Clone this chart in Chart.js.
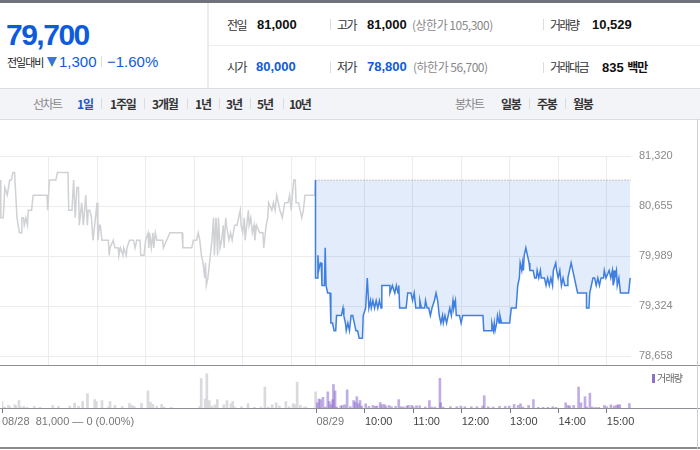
<!DOCTYPE html>
<html><head><meta charset="utf-8">
<script src="https://cdn.jsdelivr.net/npm/chart.js@4"></script>
<style>
body{margin:0;width:700px;height:450px;position:relative;overflow:hidden;background:#fff;font-family:"Liberation Sans",Arial,sans-serif;}
.a{position:absolute;white-space:nowrap;line-height:20px;height:20px;}
.k{font-family:"Noto Sans CJK KR",sans-serif;font-size:12px;letter-spacing:-1.5px;color:#333;}
.v{font-family:"Liberation Sans",Arial,sans-serif;font-size:13px;font-weight:bold;color:#111;}
.b{color:#0d5bdc;}
.g{font-family:"Noto Sans CJK KR",sans-serif;font-size:12px;color:#888;letter-spacing:-0.5px;}
.s{position:absolute;width:1px;height:11px;background:#dcdcdc;}
.t{font-family:"Noto Sans CJK KR",sans-serif;font-size:12px;letter-spacing:-1.2px;font-weight:bold;color:#333;}
.ln{position:absolute;}
canvas{position:absolute;left:0;}
</style></head>
<body>
<div class="ln" style="left:0;top:0;width:700px;height:3px;background:#6e737b"></div>
<div class="ln" style="left:207px;top:3px;width:2px;height:85px;background:#ececec"></div>
<div class="ln" style="left:209px;top:45px;width:491px;height:1px;background:#eeeeee"></div>
<div class="ln" style="left:0;top:88px;width:700px;height:30px;background:#f3f4f7;border-top:1px solid #dcdde0;border-bottom:1px solid #dcdde0"></div>

<div class="a" style="left:6px;top:20px;height:30px;line-height:30px;font-size:30px;font-weight:bold;letter-spacing:-1.5px;color:#0d5bdc">79,700</div>
<div class="a k" style="left:7px;top:52px;font-size:11px;letter-spacing:-1px;color:#222">전일대비</div>
<div class="ln" style="left:47px;top:57px;width:0;height:0;border-left:5.5px solid transparent;border-right:5.5px solid transparent;border-top:10px solid #3d74d4"></div>
<div class="a b" style="left:59px;top:52px;font-size:15px">1,300</div>
<div class="s" style="left:101px;top:56px"></div>
<div class="a b" style="left:107px;top:52px;font-size:15px">−1.60%</div>

<div class="a k" style="left:227px;top:15px">전일</div>
<div class="a v" style="left:257px;top:15px">81,000</div>
<div class="s" style="left:330px;top:19px"></div>
<div class="a k" style="left:337px;top:15px">고가</div>
<div class="a v" style="left:367px;top:15px">81,000</div>
<div class="a g" style="left:412px;top:15px">(상한가 105,300)</div>
<div class="s" style="left:543px;top:19px"></div>
<div class="a k" style="left:550px;top:15px">거래량</div>
<div class="a v" style="left:592px;top:15px">10,529</div>

<div class="a k" style="left:227px;top:57px">시가</div>
<div class="a v b" style="left:256px;top:57px">80,000</div>
<div class="s" style="left:330px;top:62px"></div>
<div class="a k" style="left:337px;top:57px">저가</div>
<div class="a v b" style="left:367px;top:57px">78,800</div>
<div class="a g" style="left:413px;top:57px">(하한가 56,700)</div>
<div class="s" style="left:543px;top:62px"></div>
<div class="a k" style="left:550px;top:57px">거래대금</div>
<div class="a v" style="left:602px;top:57px">835 <span style="font-family:'Noto Sans CJK KR';font-size:12px;letter-spacing:-1px">백만</span></div>

<div class="a g" style="left:33px;top:94px;letter-spacing:-1.5px">선차트</div>
<div class="a t" style="left:77px;top:94px;color:#1e56c9">1일</div>
<div class="s" style="left:101px;top:98px"></div>
<div class="a t" style="left:110px;top:94px">1주일</div>
<div class="s" style="left:144px;top:98px"></div>
<div class="a t" style="left:152px;top:94px">3개월</div>
<div class="s" style="left:187px;top:98px"></div>
<div class="a t" style="left:195px;top:94px">1년</div>
<div class="s" style="left:219px;top:98px"></div>
<div class="a t" style="left:226px;top:94px">3년</div>
<div class="s" style="left:250px;top:98px"></div>
<div class="a t" style="left:257px;top:94px">5년</div>
<div class="s" style="left:283px;top:98px"></div>
<div class="a t" style="left:289px;top:94px">10년</div>
<div class="a g" style="left:455px;top:94px;letter-spacing:-1.5px">봉차트</div>
<div class="a t" style="left:501px;top:94px">일봉</div>
<div class="s" style="left:529px;top:98px"></div>
<div class="a t" style="left:537px;top:94px">주봉</div>
<div class="s" style="left:565px;top:98px"></div>
<div class="a t" style="left:573px;top:94px">월봉</div>

<canvas id="price" width="700" height="261" style="top:120px"></canvas>
<canvas id="vol" width="700" height="70" style="top:366px"></canvas>

<div class="ln" style="left:0;top:365px;width:700px;height:1px;background:#8d9096"></div>
<div class="ln" style="left:0;top:408px;width:700px;height:1px;background:#8d9096"></div>
<div class="ln" style="left:0;top:447px;width:700px;height:2px;background:#8a8a8a"></div>
<div class="ln" style="left:697px;top:119px;width:1px;height:331px;background:#cfcfcf"></div>
<div class="ln" style="left:652px;top:374px;width:3px;height:9px;background:#8d70c8"></div>
<div class="a k" style="left:657px;top:368px;font-size:10px;letter-spacing:-0.8px;color:#666">거래량</div>

<script>
// minutes after 09:00 open; previous day (08/28) and current day (08/29)
const prevMin = [0,1,4,6,9,12,14,16,18,21,24,26,27,29,30,32,34,35,39,41,58,59,61,69,71,84,85,89,91,93,95,97,98,101,103,106,108,109,111,113,115,117,119,120,121,123,124,126,134,135,136,140,142,146,147,149,152,153,156,157,160,165,167,169,173,174,178,180,183,184,185,187,189,190,192,194,201,202,206,210,225,226,237,239,243,245,247,249,251,253,254,255,257,260,262,264,265,267,269,270,272,274,276,277,279,280,283,285,287,290,293,295,297,298,300,302,303,305,307,308,310,312,314,315,317,321,325,326,329,331,332,336,338,340,342,344,346,349,352,356,358,360,363,365,366,369,371,373,375,377,389,390];
const prevPrice = [81000,80500,80500,80900,80800,81000,81000,81100,81100,80500,80300,80300,80500,80500,80400,80500,80400,80600,80600,80800,80800,80600,81000,81000,81100,81100,80600,80600,81000,80500,80900,80900,80400,80700,80400,80800,80400,80600,80600,80500,80200,80400,80600,80700,80200,80400,80400,80200,80200,80000,80100,80200,80100,80100,80000,80100,80000,80100,80000,80100,80200,80200,80100,80200,80200,80000,80000,80200,80300,80100,80300,80100,80300,80100,80300,80200,80200,80100,80200,80300,80300,80100,80100,80200,80200,80300,80200,80000,79900,79700,79900,79600,79700,80000,80200,80500,80000,80500,80000,80500,80100,80200,80400,80100,80500,80400,80200,80300,80200,80400,80400,80500,80600,80400,80300,80500,80200,80400,80600,80400,80500,80300,80400,80200,80400,80300,80300,80100,80400,80500,80700,80600,80700,80600,80800,80700,80600,80500,80700,80700,80800,80600,81000,81000,80700,80700,80600,80500,80600,80800,80800,81000];
const curMin = [0,0,2,3,4,6,7,8,11,12,13,15,18,19,21,23,25,26,32,34,35,37,38,40,42,44,46,48,50,52,54,58,59,62,64,66,68,69,71,73,75,77,79,81,82,92,92,95,98,100,102,103,104,112,114,116,118,120,122,124,129,129,131,135,136,138,140,142,144,147,149,151,153,155,157,158,160,162,164,166,168,170,171,173,174,178,180,182,207,208,217,218,220,221,222,224,225,227,228,230,240,242,248,250,252,253,255,256,257,258,260,262,264,265,269,271,273,274,276,278,279,283,285,287,289,291,293,294,297,298,300,302,304,306,308,311,312,314,316,318,320,322,324,335,335,338,339,341,343,345,347,349,351,353,356,357,359,363,365,367,368,369,370,372,373,375,376,377,387,389];
const curPrice = [81000,79700,79700,80000,79800,79900,79900,79600,79600,80100,79600,79500,79500,79100,79100,79000,79000,79200,79200,79300,79200,79100,79000,79100,79000,79200,79200,79100,79000,79000,78900,78900,79200,79300,79700,79300,79400,79300,79400,79300,79400,79300,79400,79300,79600,79600,79500,79600,79500,79600,79500,79600,79300,79300,79500,79500,79500,79400,79500,79300,79300,79400,79300,79300,79400,79300,79300,79200,79300,79400,79500,79400,79200,79100,79200,79100,79200,79100,79200,79300,79200,79400,79300,79400,79200,79200,79100,79200,79200,79000,79000,79100,79000,79100,79000,79100,79200,79100,79200,79100,79100,79300,79300,79600,79700,79900,79800,79900,79800,80000,80100,80000,79900,79800,79800,79700,79700,79800,79700,79800,79700,79700,79600,79700,79600,79700,79600,79800,79900,79800,79700,79800,79600,79700,79600,79600,79700,79800,79900,79800,79700,79600,79500,79500,79300,79300,79500,79600,79700,79700,79600,79700,79600,79700,79700,79800,79700,79800,79700,79800,79600,79800,79700,79800,79600,79700,79600,79500,79500,79700];
const prevVolMin = [0,3,8,10,16,17,21,23,27,31,40,47,63,70,84,90,95,100,106,115,117,124,132,134,140,149,158,161,164,173,181,184,187,192,198,201,210,245,247,252,254,257,260,264,267,275,279,284,286,288,297,305,313,321,326,330,335,340,344,352,356,361,363,366,370,375,377,389];
const prevVol = [160,24,64,24,80,48,184,24,40,16,40,16,64,40,48,120,40,160,352,208,160,184,24,160,64,40,112,64,40,112,424,144,88,40,88,24,16,32,728,224,848,184,48,80,208,80,184,104,160,32,32,104,16,24,520,24,80,128,48,160,32,104,80,640,64,24,24,400];
const curVolMin = [1,3,5,8,11,14,16,18,20,21,23,25,30,32,35,38,42,46,48,50,52,54,56,61,65,70,73,75,79,81,84,86,90,93,98,102,105,108,112,114,118,120,124,128,135,140,143,147,153,154,157,166,174,179,184,192,199,206,208,213,219,227,234,239,245,250,253,256,263,269,275,281,287,293,297,309,312,314,319,325,328,333,335,339,342,346,350,357,360,365,369,372,374,376,388];
const curVol = [128,224,208,264,24,400,160,80,208,584,424,24,48,64,80,448,32,184,144,280,104,184,48,104,40,64,40,48,136,80,88,48,64,32,40,208,32,24,48,64,64,32,56,56,24,184,24,24,736,128,24,32,32,48,32,32,32,48,304,32,24,40,40,48,88,64,104,24,64,208,16,16,16,32,16,128,64,48,64,520,128,280,24,368,24,16,16,64,32,80,48,64,80,80,112];
const prevClose = 81000;
const priceTicks = [78658, 79324, 79989, 80655, 81320];
const gridMin = [60,120,180,240,300,360,390,450,510,570,630,690,750];
const axisMin = [0,390,450,510,570,630,690,750];
const axisLabels = ['08/28  81,000 — 0 (0.00%)','08/29','10:00','11:00','12:00','13:00','14:00','15:00'];

const SESSION = 390;
const pts = (mins, vals, off) => mins.map((m, i) => ({x: m + off, y: vals[i]}));
Chart.defaults.font.family = "'Liberation Sans', Arial, sans-serif";

new Chart(document.getElementById('price'), {
  type: 'line',
  data: {datasets: [
    {data: [{x: SESSION, y: prevClose}, {x: 2 * SESSION, y: prevClose}], borderColor: '#9a9a9a', borderWidth: 1, borderDash: [1, 2], pointRadius: 0, fill: false},
    {data: pts(curMin, curPrice, SESSION), borderColor: '#3f7fe0', borderWidth: 1.5, pointRadius: 0, tension: 0, fill: {value: prevClose}, backgroundColor: 'rgba(60,120,220,0.14)'},
    {data: pts(prevMin, prevPrice, 0), borderColor: '#cfd1d4', borderWidth: 1.5, pointRadius: 0, tension: 0, fill: false}
  ]},
  options: {
    responsive: false, animation: false, events: [],
    layout: {padding: {top: 36, left: 0, right: 0, bottom: 0}},
    plugins: {legend: {display: false}, tooltip: {enabled: false}},
    scales: {
      x: {type: 'linear', min: 0, max: 2 * SESSION,
          afterBuildTicks: s => { s.ticks = gridMin.map(v => ({value: v})); },
          afterFit: s => { s.height = 0; },
          ticks: {display: false}, grid: {color: '#ececec', drawTicks: false}, border: {display: false}},
      y: {position: 'right', min: 78525, max: 81320,
          afterBuildTicks: s => { s.ticks = priceTicks.map(v => ({value: v})); },
          afterFit: s => { s.width = 69; },
          ticks: {padding: 8, color: '#8a8a8a', font: {size: 11}, callback: v => Number(v).toLocaleString('en-US')},
          grid: {color: '#ececec', drawTicks: false}, border: {display: false}}
    }
  }
});

new Chart(document.getElementById('vol'), {
  type: 'bar',
  data: {datasets: [
    {data: pts(curVolMin, curVol, SESSION), backgroundColor: 'rgba(140,105,205,0.55)', barThickness: 2, grouped: false},
    {data: pts(prevVolMin, prevVol, 0), backgroundColor: '#d9d9de', barThickness: 2, grouped: false}
  ]},
  options: {
    responsive: false, animation: false, events: [],
    layout: {padding: {top: 0, left: 0, right: 69, bottom: 0}},
    plugins: {legend: {display: false}, tooltip: {enabled: false}},
    scales: {
      x: {type: 'linear', min: 0, max: 2 * SESSION, offset: false,
          afterBuildTicks: s => { s.ticks = axisMin.map(v => ({value: v})); },
          afterFit: s => { s.height = 28; },
          ticks: {autoSkip: false, maxRotation: 0, align: 'start', padding: 2, font: {size: 11},
                  color: c => (c.index < 2 ? '#777' : '#444'),
                  callback: (v, i) => axisLabels[i]},
          grid: {drawOnChartArea: false, drawTicks: true, tickLength: 5, tickColor: '#777', offset: false},
          border: {display: false}},
      y: {display: false, min: 0, max: 1040}
    }
  }
});
</script>
</body></html>
